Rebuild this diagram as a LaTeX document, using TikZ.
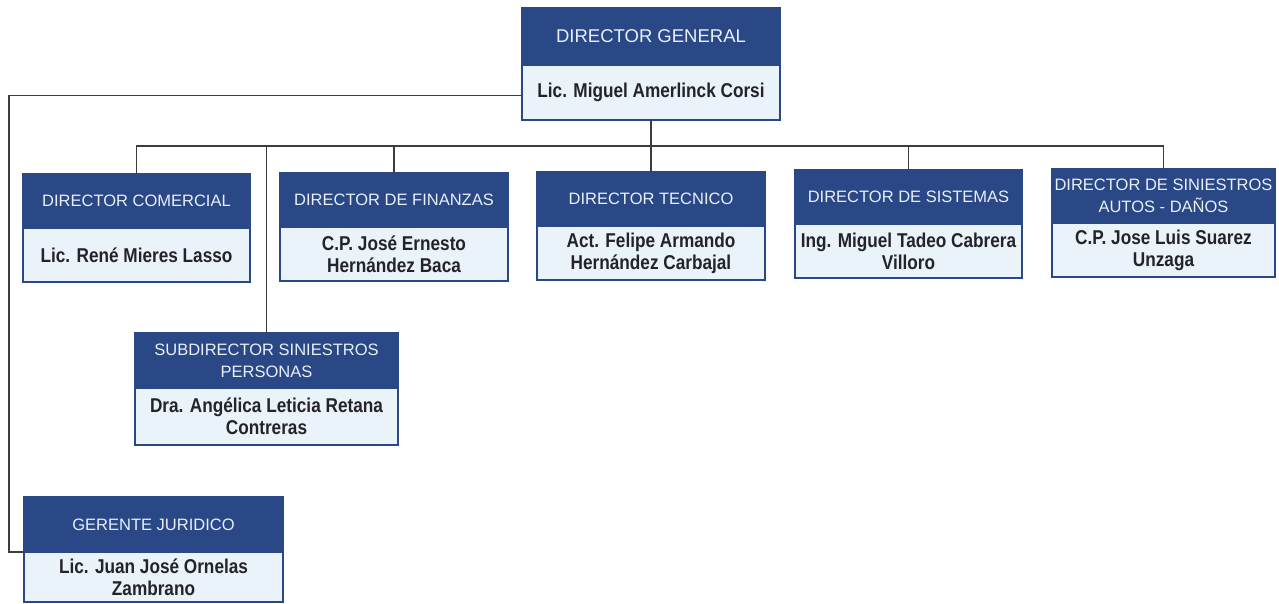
\documentclass[tikz,border=0pt]{standalone}
\usepackage{fontspec}
\setmainfont{Liberation Sans}
\newfontfamily\nomfam[FakeStretch=0.86]{Liberation Sans}
\usepackage{xcolor}
\usepackage{tikz}
\usetikzlibrary{positioning}

\definecolor{azulos}{RGB}{41,72,133}
\definecolor{celeste}{RGB}{234,243,250}
\definecolor{blancoaz}{RGB}{232,239,250}
\definecolor{textonom}{RGB}{35,35,40}
\definecolor{gris}{RGB}{60,60,60}

\tikzset{
  cab/.style={draw=azulos, fill=azulos, text=blancoaz, line width=1.5pt,
    inner sep=0pt, outer sep=0pt, align=center,
    font=\fontsize{16.5}{22}\selectfont},
  nom/.style={draw=azulos, fill=celeste, text=textonom, line width=1.5pt,
    inner sep=0pt, outer sep=0pt, align=center,
    font=\nomfam\bfseries\fontsize{20}{22}\selectfont},
  liga/.style={line width=1.2pt, color=gris}
}

\begin{document}
\begin{tikzpicture}[x=1pt,y=-1pt]
  \useasboundingbox[fill=white] (0,0) rectangle (1279,603);

  % Director general
  \node[cab, minimum width=258, minimum height=57, font=\fontsize{18.5}{22}\selectfont] (dgT) at (651,36.5) {DIRECTOR GENERAL};
  \node[nom, minimum width=258, minimum height=55, below=0pt of dgT] (dgN) {Lic. Miguel Amerlinck Corsi};

  % Primera fila
  \node[cab, minimum width=227, minimum height=54] (dcT) at (136.5,201) {DIRECTOR COMERCIAL};
  \node[nom, minimum width=227, minimum height=54, below=0pt of dcT] (dcN) {Lic. René Mieres Lasso};

  \node[cab, minimum width=228, minimum height=54] (dfT) at (394,200) {DIRECTOR DE FINANZAS};
  \node[nom, minimum width=228, minimum height=54, below=0pt of dfT] (dfN) {C.P. José Ernesto\\Hernández Baca};

  \node[cab, minimum width=228, minimum height=54] (dtT) at (651,199) {DIRECTOR TECNICO};
  \node[nom, minimum width=228, minimum height=54, below=0pt of dtT] (dtN) {Act. Felipe Armando\\Hernández Carbajal};

  \node[cab, minimum width=227, minimum height=54] (dsT) at (908.5,197) {DIRECTOR DE SISTEMAS};
  \node[nom, minimum width=227, minimum height=54, below=0pt of dsT] (dsN) {Ing. Miguel Tadeo Cabrera\\Villoro};

  \node[cab, minimum width=223, minimum height=54] (daT) at (1163.5,196) {DIRECTOR DE SINIESTROS\\AUTOS - DAÑOS};
  \node[nom, minimum width=223, minimum height=54, below=0pt of daT] (daN) {C.P. Jose Luis Suarez\\Unzaga};

  % Subdirector
  \node[cab, minimum width=263, minimum height=55] (sdT) at (266.5,360.5) {SUBDIRECTOR SINIESTROS\\PERSONAS};
  \node[nom, minimum width=263, minimum height=57, below=0pt of sdT] (sdN) {Dra. Angélica Leticia Retana\\Contreras};

  % Gerente
  \node[cab, minimum width=259, minimum height=55] (gjT) at (153.5,524.5) {GERENTE JURIDICO};
  \node[nom, minimum width=259, minimum height=50, below=0pt of gjT] (gjN) {Lic. Juan José Ornelas\\Zambrano};

  % Lineas
  \coordinate (barra) at (0,146);
  \coordinate (esq) at (9,0);
  \draw[liga] (dgN.south) -- (dgN.south |- barra);
  \draw[liga] (dcT.north) |- (barra -| daT.north) -- (daT.north);
  \draw[liga] (dfT.north) -- (dfT.north |- barra);
  \draw[liga] (dtT.north) -- (dtT.north |- barra);
  \draw[liga] (dsT.north) -- (dsT.north |- barra);
  \draw[liga] (sdT.north) -- (sdT.north |- barra);
  \draw[liga] ([yshift=-3pt]dgN.west) -| (esq |- gjT.south) -- (gjT.south west);

\end{tikzpicture}
\end{document}
